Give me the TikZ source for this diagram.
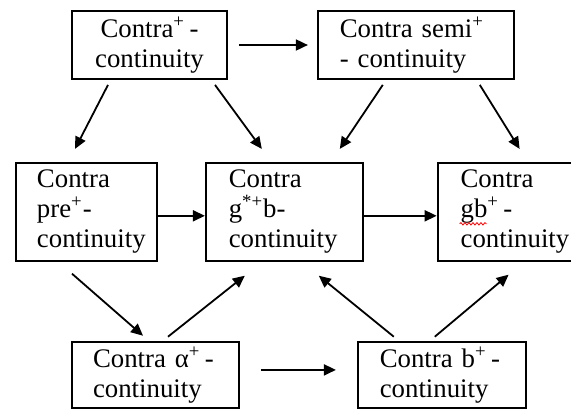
\documentclass[tikz,border=0pt]{standalone}
\usepackage{fontspec}
\setmainfont{Liberation Serif}
\usetikzlibrary{arrows.meta,positioning,decorations.pathmorphing}

\begin{document}
\begin{tikzpicture}[
	node distance=41pt and 44.5pt,
	box/.style = {draw, line width=0.9pt, inner sep=0pt, minimum height=34pt, align=left, font=\fontsize{13.4}{15}\selectfont},
	tall/.style = {box, minimum height=49pt},
	line/.style = {-{Triangle[length=6pt,width=5.5pt]}, line width=0.9pt}
	]
	\useasboundingbox (-74.75pt,22.5pt) rectangle (210.75pt,-181.5pt);

	\node[box, align=center, minimum width=77.5pt] (cont) {Contra\textsuperscript{+}\,-\\continuity};
	\node[box, right=of cont, minimum width=98pt, text width=76pt] (semi) {Contra semi\textsuperscript{+}\\- continuity};
	\node[tall, below=of cont, xshift=-31.5pt, minimum width=70.5pt, text width=49.5pt] (pre) {Contra\\pre\textsuperscript{+}-\\\mbox{continuity}};
	\node[tall, right=23.5pt of pre, minimum width=78.5pt, text width=55.5pt] (gstar) {Contra\\g\textsuperscript{*+}b-\\\mbox{continuity}};
	\node[tall, right=36.5pt of gstar, minimum width=68pt, text width=45pt] (gb) {Contra\\gb\textsuperscript{+}\,-\\\mbox{continuity}};
	\node[box, below=39.5pt of pre, xshift=34.5pt, minimum width=83.5pt, minimum height=33.3pt, text width=62.5pt] (alpha) {Contra α\textsuperscript{+}\,-\\continuity};
	\node[box, right=58.5pt of alpha, minimum width=84pt, minimum height=33.3pt, text width=62pt] (bplus) {Contra b\textsuperscript{+}\,-\\continuity};

	% spell-check mark under gb
	\draw[red, line width=0.4pt, decorate, decoration={snake, amplitude=0.6pt, segment length=2pt}] ([shift={(11.5pt,-6pt)}]gb.west) -- ([shift={(25pt,-6pt)}]gb.west);

	\draw[line, shorten <=5.5pt, shorten >=4.5pt] (cont) -- (semi);
	\draw[line] ([yshift=-2pt]pre.east) -- ([yshift=-2pt]gstar.west);
	\draw[line] ([yshift=-2pt]gstar.east) -- ([yshift=-2pt]gb.west);
	\draw[line, shorten <=10.5pt, shorten >=10.5pt] ([yshift=2.5pt]alpha.east) -- ([yshift=2.5pt]bplus.west);

	\draw[line] ([shift={(-20.75pt,-2.5pt)}]cont.south) -- ([shift={(-5.75pt,6.5pt)}]pre.north);
	\draw[line] ([shift={(32.75pt,-2.5pt)}]cont.south) -- ([shift={(-11.25pt,6.5pt)}]gstar.north);
	\draw[line] ([shift={(-16.5pt,-2.5pt)}]semi.south) -- ([shift={(27.75pt,6.5pt)}]gstar.north);
	\draw[line] ([shift={(32pt,-2.5pt)}]semi.south) -- ([shift={(7pt,6.5pt)}]gb.north);
	\draw[line] ([shift={(-7.25pt,-6pt)}]pre.south) -- ([shift={(-6.25pt,2.5pt)}]alpha.north);
	\draw[line] ([shift={(6.25pt,2pt)}]alpha.north) -- ([shift={(-19.75pt,-7pt)}]gstar.south);
	\draw[line] ([shift={(-24pt,2pt)}]bplus.north) -- ([shift={(17.25pt,-7pt)}]gstar.south);
	\draw[line] ([shift={(-3.5pt,2pt)}]bplus.north) -- ([shift={(1.5pt,-6.5pt)}]gb.south);
\end{tikzpicture}
\end{document}
